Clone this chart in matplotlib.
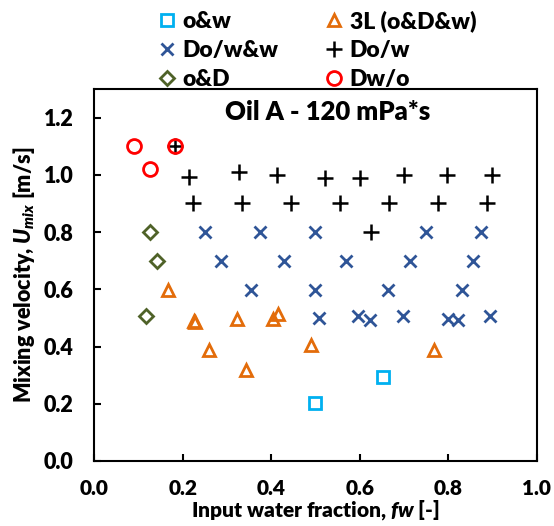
import matplotlib
matplotlib.use('Agg')
import matplotlib.pyplot as plt

plt.rcParams['font.family'] = ['Lato', 'DejaVu Sans']
plt.rcParams['font.weight'] = 'heavy'
plt.rcParams['axes.labelweight'] = 'heavy'
plt.rcParams['mathtext.fontset'] = 'custom'
plt.rcParams['mathtext.it'] = 'Lato:italic:heavy'
plt.rcParams['mathtext.rm'] = 'Lato:heavy'

# data
ow_x = [0.499, 0.653]
ow_y = [0.201, 0.292]

tl_x = [0.166, 0.226, 0.228, 0.260, 0.322, 0.344, 0.405, 0.416, 0.489, 0.768]
tl_y = [0.597, 0.490, 0.485, 0.389, 0.495, 0.319, 0.495, 0.513, 0.407, 0.389]

dww_x = [0.251, 0.375, 0.499, 0.749, 0.874,
         0.287, 0.429, 0.570, 0.713, 0.855,
         0.354, 0.499, 0.664, 0.832,
         0.509, 0.597, 0.623, 0.698, 0.800, 0.821, 0.895]
dww_y = [0.799, 0.799, 0.799, 0.799, 0.799,
         0.699, 0.699, 0.699, 0.699, 0.699,
         0.599, 0.599, 0.599, 0.599,
         0.498, 0.506, 0.492, 0.506, 0.495, 0.492, 0.507]

dw_x = [0.183, 0.215, 0.328, 0.412, 0.521, 0.600, 0.700, 0.798, 0.898,
        0.223, 0.333, 0.444, 0.555, 0.667, 0.776, 0.888, 0.625]
dw_y = [1.100, 0.991, 1.011, 0.999, 0.990, 0.990, 0.999, 0.999, 0.999,
        0.900, 0.900, 0.900, 0.900, 0.900, 0.900, 0.900, 0.799]

od_x = [0.125, 0.143, 0.117]
od_y = [0.799, 0.699, 0.507]

dwo_x = [0.091, 0.125, 0.183]
dwo_y = [1.100, 1.021, 1.100]

xticks = [0.0, 0.2, 0.4, 0.6, 0.8, 1.0]
yticks = [0.0, 0.2, 0.4, 0.6, 0.8, 1.0, 1.2]

fig = plt.figure(figsize=(5.54, 5.26), dpi=100)
ax = fig.add_axes([0.170, 0.1236, 0.799, 0.7072])

h1, = ax.plot(ow_x, ow_y, 's', ls='none', ms=8, mfc='none', mec='#00B0F0', mew=2, label='o&w')
h2, = ax.plot(dww_x, dww_y, 'x', ls='none', ms=8, mec='#2F5597', mew=2, label='Do/w&w')
h3, = ax.plot(od_x, od_y, 'D', ls='none', ms=7.5, mfc='none', mec='#4F6228', mew=2, label='o&D')
h4, = ax.plot(tl_x, tl_y, '^', ls='none', ms=9, mfc='none', mec='#E36C0A', mew=2, label='3L (o&D&w)')
h5, = ax.plot(dw_x, dw_y, '+', ls='none', ms=11, mec='black', mew=1.8, label='Do/w')
h6, = ax.plot(dwo_x, dwo_y, 'o', ls='none', ms=10, mfc='none', mec='#FF0000', mew=2, label='Dw/o')

ax.set_xlim(0, 1.0)
ax.set_ylim(0, 1.3)
ax.set_xticks(xticks)
ax.set_yticks(yticks)
ax.set_xticklabels(['%.1f' % v for v in xticks], fontweight='heavy')
ax.set_yticklabels(['%.1f' % v for v in yticks], fontweight='heavy')
ax.tick_params(direction='in', length=5, width=1.5, labelsize=15.5)
ax.tick_params(axis='x', pad=13, labelsize=15)
ax.tick_params(axis='y', pad=15)
for s in ax.spines.values():
    s.set_linewidth(1.5)

ax.set_xlabel(r'Input water fraction, $\mathit{fw}$ [-]', fontsize=15, labelpad=0)
ax.set_ylabel(r'Mixing velocity, $\mathit{U}_{\mathit{mix}}$ [m/s]', fontsize=15.5, labelpad=5)
ax.text(0.528, 0.938, 'Oil A - 120 mPa*s', transform=ax.transAxes, ha='center', va='center',
        fontsize=18.5, fontweight='heavy')

fig.legend(handles=[h1, h2, h3, h4, h5, h6], ncol=2, loc='upper left',
           bbox_to_anchor=(0.243, 1.02), frameon=False, prop={'size': 16.5, 'weight': 'heavy'},
           handletextpad=0.2, columnspacing=1.9, labelspacing=0.35, handlelength=1.0)

fig.savefig('out.png', dpi=100)
